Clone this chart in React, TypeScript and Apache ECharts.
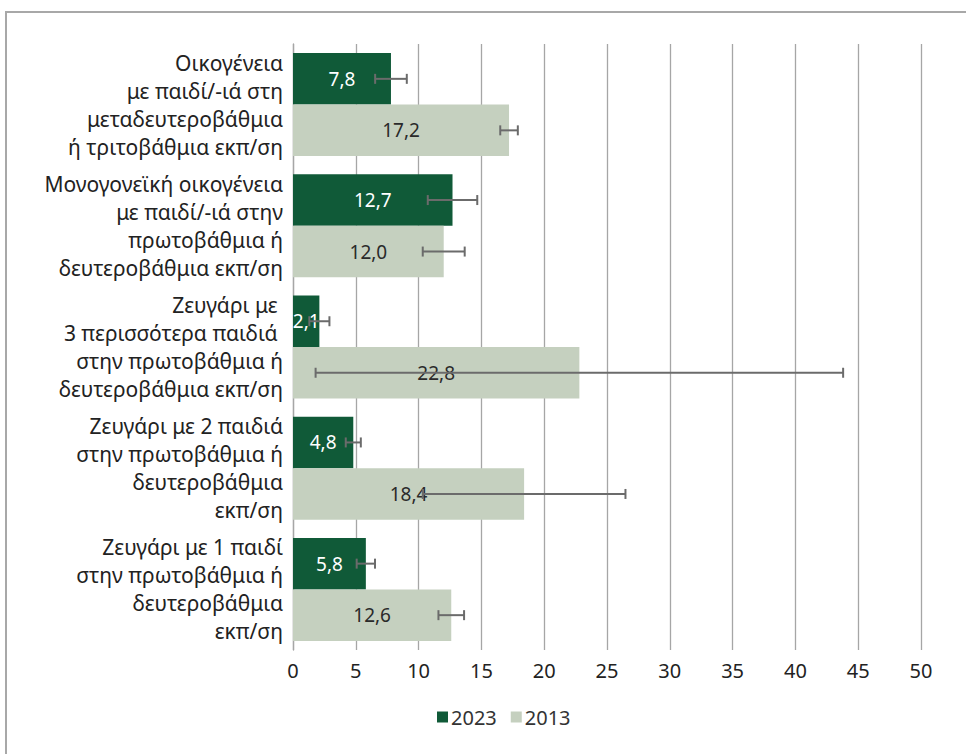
import React, { useEffect, useRef } from "react";
import * as echarts from "echarts";

const categories = [
  "Οικογένεια\nμε παιδί/-ιά στη\nμεταδευτεροβάθμια\nή τριτοβάθμια εκπ/ση",
  "Μονογονεϊκή οικογένεια\nμε παιδί/-ιά στην\nπρωτοβάθμια ή\nδευτεροβάθμια εκπ/ση",
  "Ζευγάρι με \n3 περισσότερα παιδιά \nστην πρωτοβάθμια ή\nδευτεροβάθμια εκπ/ση",
  "Ζευγάρι με 2 παιδιά\nστην πρωτοβάθμια ή\nδευτεροβάθμια\nεκπ/ση",
  "Ζευγάρι με 1 παιδί\nστην πρωτοβάθμια ή\nδευτεροβάθμια\nεκπ/ση",
];
const values2023 = [7.8, 12.7, 2.1, 4.8, 5.8];
const values2013 = [17.2, 12.0, 22.8, 18.4, 12.6];
const err2023 = [1.26, 1.97, 0.8, 0.6, 0.73];
const err2013 = [0.7, 1.67, 21.0, 8.07, 1.02];

const C2023 = "#105a38";
const C2013 = "#c5d0bf";
const FONT = "'Noto Sans', 'Open Sans', sans-serif";
const FS = 20;
const GAP = 0.15;

function fmt(v: number) {
  return v.toFixed(1).replace(".", ",");
}

function errorSeries(values: number[], errs: number[], sign: number) {
  return {
    type: "custom",
    z: 10,
    silent: true,
    data: values.map((v, i) => [i, v - errs[i], v + errs[i]]),
    encode: { x: [1, 2], y: 0 },
    renderItem: (params: any, api: any) => {
      const cat = api.value(0);
      const lo = api.coord([api.value(1), cat]);
      const hi = api.coord([api.value(2), cat]);
      const band = api.size([0, 1])[1];
      const barH = (band * (1 - GAP)) / 2;
      const y = lo[1] + (sign * barH) / 2;
      const cap = 5;
      const style = { stroke: "#6b6b6b", lineWidth: 2, fill: "none" };
      return {
        type: "group",
        children: [
          { type: "line", shape: { x1: lo[0], y1: y, x2: hi[0], y2: y }, style },
          { type: "line", shape: { x1: lo[0], y1: y - cap, x2: lo[0], y2: y + cap }, style },
          { type: "line", shape: { x1: hi[0], y1: y - cap, x2: hi[0], y2: y + cap }, style },
        ],
      };
    },
  };
}

export default function App() {
  const ref = useRef<HTMLDivElement>(null);
  useEffect(() => {
    if (!ref.current) return;
    const chart = echarts.init(ref.current, null, { renderer: "svg" });
    chart.setOption({
      animation: false,
      textStyle: { fontFamily: FONT },
      graphic: [
        {
          type: "rect",
          shape: { x: 6, y: 12, width: 1000, height: 800 },
          style: { fill: "none", stroke: "#a8a8a8", lineWidth: 2 },
          z: -1,
        },
      ],
      grid: { left: 293, right: 45, top: 44, bottom: 104 },
      xAxis: {
        type: "value",
        min: 0,
        max: 50,
        interval: 5,
        axisLine: { show: false },
        axisTick: { show: false },
        splitLine: { show: true, lineStyle: { color: "#a6a6a6", width: 1.3 } },
        axisLabel: { color: "#222", fontSize: FS, margin: 10, fontFamily: FONT },
      },
      yAxis: {
        type: "category",
        inverse: true,
        data: categories,
        axisLine: { show: true, lineStyle: { color: "#a6a6a6", width: 1.3 } },
        axisTick: { show: false },
        axisLabel: {
          color: "#222",
          fontSize: 21,
          lineHeight: 28,
          align: "right",
          margin: 10,
          fontFamily: FONT,
        },
      },
      legend: {
        bottom: 22,
        left: 432,
        itemWidth: 11,
        itemHeight: 11,
        itemGap: 14,
        icon: "rect",
        textStyle: { color: "#333", fontSize: FS, fontFamily: FONT, padding: [0, 0, 0, -2] },
        data: ["2023", "2013"],
      },
      series: [
        {
          name: "2023",
          type: "bar",
          data: values2023,
          barCategoryGap: "15%",
          barGap: "0%",
          itemStyle: { color: C2023 },
          label: {
            show: true,
            position: "inside",
            color: "#fff",
            fontSize: FS - 1,
            fontFamily: FONT,
            formatter: (p: any) => fmt(p.value),
          },
        },
        {
          name: "2013",
          type: "bar",
          data: values2013,
          barCategoryGap: "15%",
          barGap: "0%",
          itemStyle: { color: C2013 },
          label: {
            show: true,
            position: "inside",
            color: "#2a2a2a",
            fontSize: FS - 1,
            fontFamily: FONT,
            formatter: (p: any) => fmt(p.value),
          },
        },
        errorSeries(values2023, err2023, -1),
        errorSeries(values2013, err2013, 1),
      ],
    });
    return () => chart.dispose();
  }, []);
  return (
    <div
      ref={ref}
      style={{ position: "absolute", left: 0, top: 0, width: 966, height: 754, background: "#fff" }}
    />
  );
}
